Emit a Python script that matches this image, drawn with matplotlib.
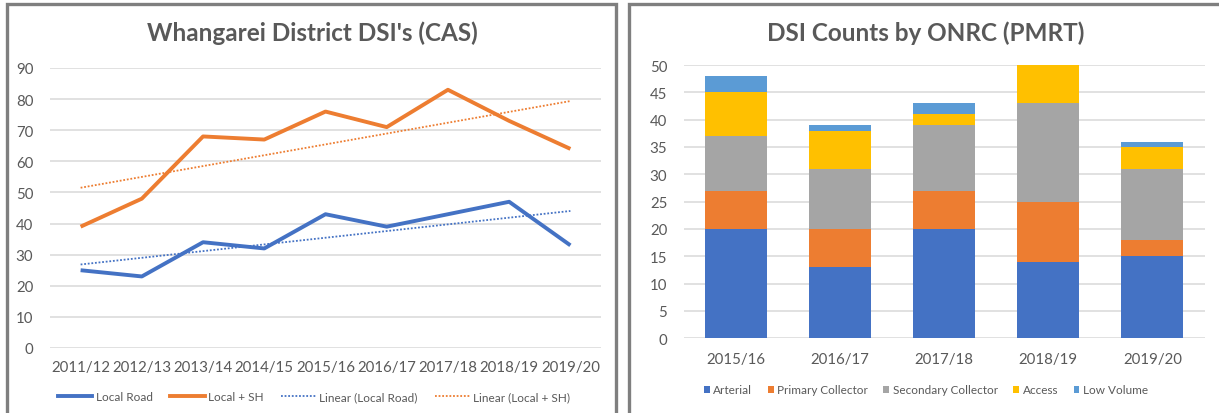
import matplotlib
matplotlib.use("Agg")
import matplotlib.pyplot as plt
from matplotlib.patches import Rectangle, Patch
from matplotlib.lines import Line2D
import numpy as np

# ---- data -------------------------------------------------------------
cas_years = ["2011/12", "2012/13", "2013/14", "2014/15", "2015/16",
             "2016/17", "2017/18", "2018/19", "2019/20"]
local_road = [25, 23, 34, 32, 43, 39, 43, 47, 33]
local_sh = [39, 48, 68, 67, 76, 71, 83, 73, 64]

pmrt_years = ["2015/16", "2016/17", "2017/18", "2018/19", "2019/20"]
arterial = [20, 13, 20, 14, 15]
primary_collector = [7, 7, 7, 11, 3]
secondary_collector = [10, 11, 12, 18, 13]
access = [8, 7, 2, 7, 4]
low_volume = [3, 1, 2, 0, 1]

# ---- styling ----------------------------------------------------------
FONT = "Lato"
TXT = "#595959"
GRID = "#D9D9D9"
BLUE = "#4472C4"
ORANGE = "#ED7D31"
GREY = "#A5A5A5"
GOLD = "#FFC000"
LIGHTBLUE = "#5B9BD5"
plt.rcParams["font.family"] = [FONT, "DejaVu Sans"]

W, H = 1219, 414
fig = plt.figure(figsize=(W / 100, H / 100), dpi=100)


def px_rect(x0, x1, ytop, ybot):
    return [x0 / W, 1 - ybot / H, (x1 - x0) / W, (ybot - ytop) / H]


# panel frames
for x0, x1 in [(7, 616), (629, 1230)]:
    fig.patches.append(Rectangle((x0 / W, -0.1), (x1 - x0) / W, 1.1 - 5 / H,
                                 transform=fig.transFigure, fill=False,
                                 edgecolor="#7F7F7F", linewidth=2.4))


def style_axes(ax, pad_y, pad_x):
    for s in ax.spines.values():
        s.set_visible(False)
    ax.grid(axis="y", color=GRID, linewidth=1.1)
    ax.set_axisbelow(True)
    ax.tick_params(length=0, colors=TXT, labelsize=10.8)
    ax.tick_params(axis="y", pad=pad_y)
    ax.tick_params(axis="x", pad=pad_x)


# ---- left: line chart -------------------------------------------------
ax1 = fig.add_axes(px_rect(50, 601, 69, 349))
x = np.arange(len(cas_years))
ax1.plot(x, local_road, color=BLUE, linewidth=2.8, solid_capstyle="butt")
ax1.plot(x, local_sh, color=ORANGE, linewidth=2.8, solid_capstyle="butt")
fit_lr = np.polyval(np.polyfit(x, local_road, 1), x)
fit_sh = np.polyval(np.polyfit(x, local_sh, 1), x)
ax1.plot(x, fit_lr, color=BLUE, linewidth=1.3, linestyle=(0, (1, 1)))
ax1.plot(x, fit_sh, color=ORANGE, linewidth=1.3, linestyle=(0, (1, 1)))
ax1.set_xlim(-0.5, len(cas_years) - 0.5)
ax1.set_ylim(0, 90)
ax1.set_yticks(range(0, 91, 10))
ax1.set_xticks(x)
ax1.set_xticklabels(cas_years)
style_axes(ax1, 12, 9)
fig.text(312 / W, 1 - 33 / H, "Whangarei District DSI's (CAS)", ha="center",
         va="center", fontsize=17.5, fontweight="bold", color=TXT)

h1 = [Line2D([], [], color=BLUE, linewidth=2.8),
      Line2D([], [], color=ORANGE, linewidth=2.8),
      Line2D([], [], color=BLUE, linewidth=1.3, linestyle=(0, (1, 1))),
      Line2D([], [], color=ORANGE, linewidth=1.3, linestyle=(0, (1, 1)))]
fig.legend(h1, ["Local Road", "Local + SH", "Linear (Local Road)",
                "Linear (Local + SH)"],
           loc="center", bbox_to_anchor=(314 / W, 1 - 398 / H), ncol=4,
           frameon=False, fontsize=8.5, labelcolor=TXT, handlelength=2.9,
           handletextpad=0.3, columnspacing=1.5)

# ---- right: stacked bar chart -----------------------------------------
ax2 = fig.add_axes(px_rect(684, 1204.5, 66, 339.3))
xb = np.arange(len(pmrt_years))
series = [("Arterial", arterial, BLUE),
          ("Primary Collector", primary_collector, ORANGE),
          ("Secondary Collector", secondary_collector, GREY),
          ("Access", access, GOLD),
          ("Low Volume", low_volume, LIGHTBLUE)]
bottom = np.zeros(len(pmrt_years))
for name, vals, col in series:
    ax2.bar(xb, vals, bottom=bottom, width=0.595, color=col, label=name)
    bottom += np.array(vals)
ax2.set_xlim(-0.5, len(pmrt_years) - 0.5)
ax2.set_ylim(0, 50)
ax2.set_yticks(range(0, 51, 5))
ax2.set_xticks(xb)
ax2.set_xticklabels(pmrt_years)
style_axes(ax2, 12, 10)
fig.text(926 / W, 1 - 33 / H, "DSI Counts by ONRC (PMRT)", ha="center",
         va="center", fontsize=17.5, fontweight="bold", color=TXT)

h2 = [Patch(facecolor=c) for _, _, c in series]
fig.legend(h2, [n for n, _, _ in series], loc="center",
           bbox_to_anchor=(926 / W, 1 - 391 / H), ncol=5, frameon=False,
           fontsize=8.5, labelcolor=TXT, handlelength=0.5, handleheight=0.5,
           handletextpad=0.3, columnspacing=1.3)

fig.savefig("out.png", dpi=100)
